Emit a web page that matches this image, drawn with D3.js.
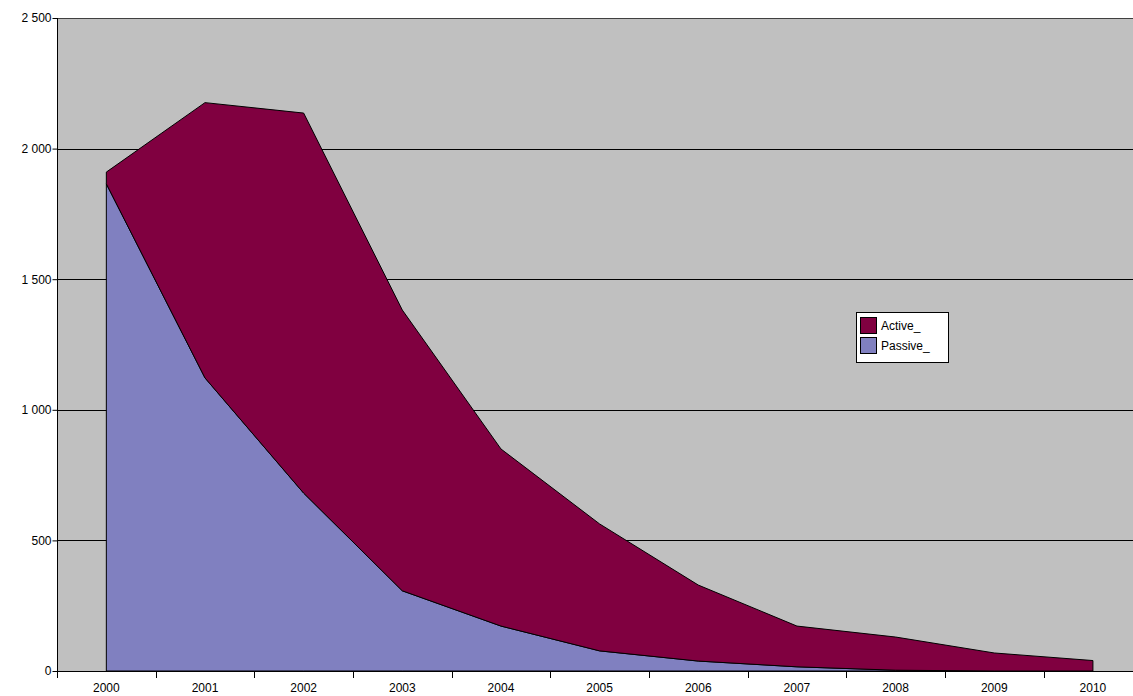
<!DOCTYPE html>
<html><head><meta charset="utf-8">
<script src="https://cdn.jsdelivr.net/npm/d3@7"></script>
<style>body{margin:0;background:#fff;}svg{display:block;font-family:"Liberation Sans",Arial,sans-serif;}</style>
</head><body>
<script>
const years = ["2000","2001","2002","2003","2004","2005","2006","2007","2008","2009","2010"];
const passive = [1865,1122,681,307,172,77,38,16,3,0,0];
const active  = [45,1054,1455,1075,678,486,291,156,127,69,40];
const yTicks = [0,500,1000,1500,2000,2500];
const seriesNames = ["Active_","Passive_"];
const colors = {"Active_":"#800040","Passive_":"#8080C0"};

(function(){
const W=1133,H=696;
const mLeft=57, mTop=18, mBottom=671, step=98.66;
const mRight = mLeft + step*years.length;
const svg=d3.select("body").append("svg").attr("width",W).attr("height",H);

const x=d3.scaleBand().domain(years).range([mLeft,mRight]).paddingInner(0).paddingOuter(0);
const y=d3.scaleLinear().domain([0,2500]).range([mBottom,mTop]);
const cx=d=>x(d)+x.bandwidth()/2;

svg.append("clipPath").attr("id","pc").append("rect").attr("x",mLeft).attr("y",mTop-1).attr("width",W-mLeft).attr("height",mBottom-mTop+2);
const g=svg.append("g").attr("clip-path","url(#pc)");
g.append("rect").attr("x",mLeft).attr("y",mTop).attr("width",mRight-mLeft).attr("height",mBottom-mTop).attr("fill","#C0C0C0");

g.selectAll("line.grid").data(yTicks.filter(d=>d>0)).join("line")
 .attr("x1",mLeft).attr("x2",mRight).attr("y1",d=>Math.round(y(d))+0.5).attr("y2",d=>Math.round(y(d))+0.5)
 .attr("stroke",d=>d===2500?"#404040":"#000").attr("stroke-width",1);

const table=years.map((yr,i)=>({year:yr,"Passive_":passive[i],"Active_":active[i]}));
const stacked=d3.stack().keys(["Passive_","Active_"])(table);
const area=d3.area().x(d=>cx(d.data.year)).y0(d=>y(d[0])).y1(d=>y(d[1]));
stacked.forEach(s=>{
  g.append("path").datum(s).attr("d",area).attr("fill",colors[s.key]).attr("stroke","#000").attr("stroke-width",1);
});

const yAxis=d3.axisLeft(y).tickValues(yTicks).tickSize(5).tickFormat(d=>d3.format(",")(d).replace(/,/g," "));
const ya=svg.append("g").attr("transform",`translate(${mLeft+0.5},0)`).call(yAxis);
ya.select(".domain").attr("stroke","#000").attr("d",`M0,${mTop}V${mBottom}`);
ya.selectAll(".tick line").attr("stroke","#000");
ya.selectAll(".tick text").attr("font-size",12).attr("fill","#000").attr("x",-6).attr("font-family","Liberation Sans, Arial, sans-serif");

svg.append("line").attr("x1",mLeft).attr("x2",W).attr("y1",mBottom+0.5).attr("y2",mBottom+0.5).attr("stroke","#000");
const boundaries=years.map(d=>x(d));
svg.selectAll("line.xt").data(boundaries).join("line").attr("class","xt")
 .attr("x1",d=>Math.round(d)+0.5).attr("x2",d=>Math.round(d)+0.5).attr("y1",mBottom).attr("y2",mBottom+7).attr("stroke","#000");
svg.selectAll("text.xl").data(years).join("text").attr("class","xl")
 .attr("x",d=>cx(d)).attr("y",692).attr("text-anchor","middle").attr("font-size",12).text(d=>d);

const lg=svg.append("g").attr("transform","translate(856,312)");
lg.append("rect").attr("x",0.5).attr("y",0.5).attr("width",92).attr("height",50).attr("fill","#fff").attr("stroke","#000");
seriesNames.forEach((n,i)=>{
  lg.append("rect").attr("x",4.5).attr("y",5.5+i*20).attr("width",16).attr("height",16).attr("fill",colors[n]).attr("stroke","#000");
  lg.append("text").attr("x",25).attr("y",18+i*20).attr("font-size",12).text(n);
});
})();
</script>
</body></html>
